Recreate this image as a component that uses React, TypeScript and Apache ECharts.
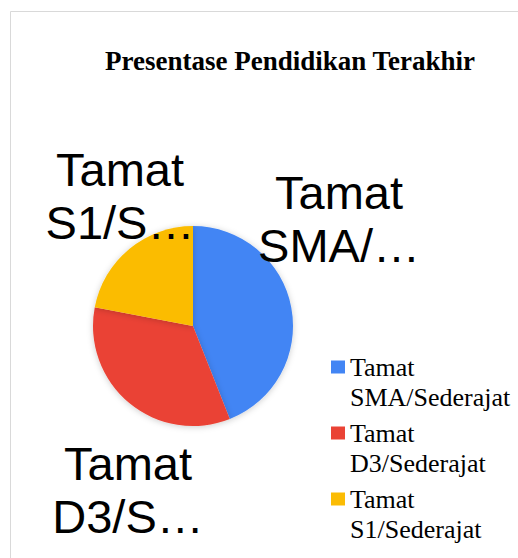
import React, { useEffect, useRef } from "react";
import * as echarts from "echarts";

const categories = ["Tamat SMA/Sederajat", "Tamat D3/Sederajat", "Tamat S1/Sederajat"];
const values = [44, 34, 22];
const shortLabels = ["Tamat\nSMA/…", "Tamat\nD3/S…", "Tamat\nS1/S…"];
const legendLabels = ["Tamat\nSMA/Sederajat", "Tamat\nD3/Sederajat", "Tamat\nS1/Sederajat"];
const colors = ["#4285F4", "#EA4335", "#FBBC04"];
const title = "Presentase Pendidikan Terakhir";

const labelCenters = [
  [339, 219],
  [128, 490],
  [120, 196],
];

export default function App() {
  const ref = useRef<HTMLDivElement>(null);
  useEffect(() => {
    if (!ref.current) return;
    const chart = echarts.init(ref.current, null, { renderer: "svg" });
    chart.setOption({
      animation: false,
      color: colors,
      title: {
        text: title,
        left: 105,
        top: 47,
        padding: 0,
        textStyle: {
          fontFamily: "'Liberation Serif', 'Times New Roman', serif",
          fontWeight: "bold",
          fontSize: 27,
          color: "#000",
        },
      },
      graphic: [
        {
          type: "rect",
          shape: { x: 10.5, y: 11.5, width: 520, height: 560 },
          style: { fill: "none", stroke: "#d9d9d9", lineWidth: 1 },
          silent: true,
        },
      ],
      legend: {
        orient: "vertical",
        left: 331,
        top: 322,
        height: 400,
        padding: 0,
        itemWidth: 14,
        itemHeight: 13,
        itemGap: -24,
        icon: "rect",
        formatter: (name: string) => "\n" + legendLabels[categories.indexOf(name)],
        textStyle: {
          fontFamily: "'Liberation Serif', 'Times New Roman', serif",
          fontSize: 26,
          lineHeight: 30,
          color: "#000",
        },
        data: categories,
      },
      series: [
        {
          type: "pie",
          center: [193, 326],
          radius: 100,
          startAngle: 90,
          clockwise: true,
          itemStyle: {
            shadowBlur: 6,
            shadowColor: "rgba(0,0,0,0.2)",
            shadowOffsetY: 1,
          },
          label: {
            show: true,
            position: "inside",
            formatter: (p: any) => shortLabels[p.dataIndex],
            fontFamily: "'Liberation Sans', Arial, sans-serif",
            fontSize: 47,
            lineHeight: 53,
            color: "#000",
          },
          labelLine: { show: false },
          labelLayout: (p: any) => ({
            x: labelCenters[p.dataIndex][0],
            y: labelCenters[p.dataIndex][1],
            align: "center",
            verticalAlign: "middle",
          }),
          emphasis: { disabled: true },
          data: categories.map((c, i) => ({ name: c, value: values[i] })),
        },
      ],
    });
    return () => chart.dispose();
  }, []);
  return (
    <div
      ref={ref}
      style={{ position: "absolute", left: 0, top: 0, width: 518, height: 558 }}
    />
  );
}
